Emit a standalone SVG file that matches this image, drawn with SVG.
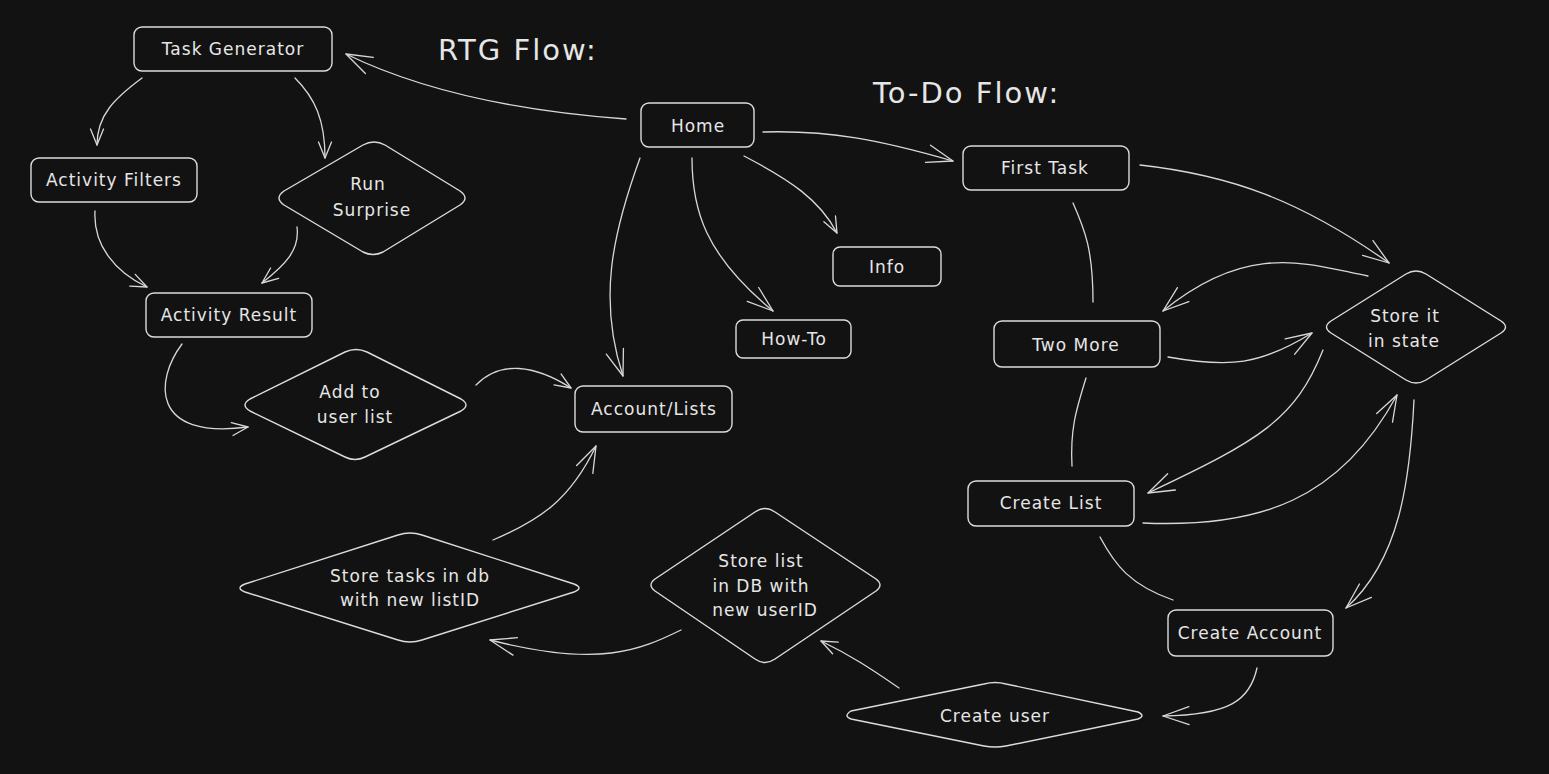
<svg xmlns="http://www.w3.org/2000/svg" width="1549" height="774" viewBox="0 0 1549 774">
<style>
.bg{fill:#121212}
.n{fill:none;stroke:#dcdcdc;stroke-width:1.4;stroke-linejoin:round}
.c{fill:none;stroke:#d8d8d8;stroke-width:1.3;stroke-linecap:round}
.a{marker-end:url(#ah)}
.al{marker-end:url(#ahl)}
.t{fill:#e6e6e6;font-family:"DejaVu Sans","Liberation Sans",sans-serif;font-size:17px;letter-spacing:1px;text-anchor:middle}
.h{fill:#e6e6e6;font-family:"DejaVu Sans","Liberation Sans",sans-serif;font-size:29px;letter-spacing:2px}
</style>
<defs>
<marker id="ah" markerUnits="userSpaceOnUse" viewBox="-20 -10 24 20" refX="0" refY="0" markerWidth="24" markerHeight="20" orient="auto" overflow="visible">
<path d="M -16 -6.5 L 0 0 L -16 6.5" fill="none" stroke="#d8d8d8" stroke-width="1.3" stroke-linecap="round" stroke-linejoin="round"/>
</marker>
<marker id="ahl" markerUnits="userSpaceOnUse" viewBox="-30 -12 34 24" refX="0" refY="0" markerWidth="34" markerHeight="24" orient="auto" overflow="visible">
<path d="M -26 -9 L 0 0 L -26 9" fill="none" stroke="#d8d8d8" stroke-width="1.3" stroke-linecap="round" stroke-linejoin="round"/>
</marker>
</defs>
<rect class="bg" x="0" y="0" width="1549" height="774"/>

<g id="titles">
<text class="h" x="438" y="60">RTG Flow:</text>
<text class="h" x="873" y="103">To-Do Flow:</text>
</g>

<g id="connectors">
<path class="c al" d="M 626 119 C 530 112, 430 95, 346 54"/>
<path class="c a" d="M 142 78 C 115 98, 97 115, 97 145"/>
<path class="c a" d="M 295 78 C 315 98, 325 120, 325 158"/>
<path class="c a" d="M 95 211 C 93 245, 115 272, 147 287"/>
<path class="c a" d="M 297 227 C 300 250, 285 265, 262 283"/>
<path class="c a" d="M 182 344 C 155 380, 150 440, 248 427"/>
<path class="c a" d="M 476 385 C 500 360, 535 365, 571 388"/>
<path class="c al" d="M 640 158 C 612 235, 598 300, 623 376"/>
<path class="c al" d="M 692 158 C 692 210, 705 255, 773 311"/>
<path class="c a" d="M 744 156 C 790 180, 820 200, 837 233"/>
<path class="c al" d="M 763 132 C 830 130, 880 140, 953 161"/>
<path class="c al" d="M 1140 165 C 1230 175, 1300 200, 1389 263"/>
<path class="c al" d="M 1368 276 C 1310 265, 1250 240, 1163 311"/>
<path class="c al" d="M 1168 357 C 1230 368, 1260 365, 1312 333"/>
<path class="c" d="M 1073 203 C 1085 230, 1093 250, 1093 302"/>
<path class="c" d="M 1086 378 C 1076 410, 1070 430, 1072 466"/>
<path class="c al" d="M 1323 350 C 1295 420, 1260 440, 1148 493"/>
<path class="c al" d="M 1143 523 C 1260 528, 1340 500, 1397 395"/>
<path class="c al" d="M 1414 400 C 1410 480, 1400 560, 1346 608"/>
<path class="c" d="M 1100 537 C 1115 565, 1130 585, 1173 600"/>
<path class="c al" d="M 1257 668 C 1250 700, 1230 715, 1163 716"/>
<path class="c a" d="M 899 688 C 870 668, 850 655, 821 641"/>
<path class="c al" d="M 681 630 C 640 650, 600 668, 490 640"/>
<path class="c al" d="M 493 540 C 540 520, 570 500, 596 446"/>
</g>

<g id="task-generator">
<rect class="n" x="134" y="27" width="198" height="44" rx="8"/>
<text class="t" x="233" y="55">Task Generator</text>
</g>
<g id="activity-filters">
<rect class="n" x="31" y="158" width="166" height="44" rx="8"/>
<text class="t" x="114" y="186">Activity Filters</text>
</g>
<g id="run-surprise">
<path class="n" d="M 284 191 Q 274 198 284 205 L 363 252 Q 373 257 383 252 L 460 205 Q 470 198 460 191 L 385 145 Q 374 139 363 145 Z"/>
<text class="t" x="368" y="190">Run</text>
<text class="t" x="372" y="216">Surprise</text>
</g>
<g id="activity-result">
<rect class="n" x="146" y="293" width="166" height="44" rx="8"/>
<text class="t" x="229" y="321">Activity Result</text>
</g>
<g id="add-to-user-list">
<path class="n" d="M 250 399 Q 240 405 250 411 L 345 457 Q 355 462 365 457 L 461 411 Q 471 405 461 399 L 367 352 Q 356 347 345 352 Z"/>
<text class="t" x="350" y="398">Add to</text>
<text class="t" x="355" y="423">user list</text>
</g>
<g id="home">
<rect class="n" x="641" y="103" width="113" height="44" rx="8"/>
<text class="t" x="698" y="132">Home</text>
</g>
<g id="info">
<rect class="n" x="833" y="247" width="108" height="39" rx="7"/>
<text class="t" x="887" y="273">Info</text>
</g>
<g id="how-to">
<rect class="n" x="736" y="320" width="115" height="38" rx="7"/>
<text class="t" x="794" y="345">How-To</text>
</g>
<g id="account-lists">
<rect class="n" x="575" y="386" width="157" height="46" rx="8"/>
<text class="t" x="654" y="415">Account/Lists</text>
</g>
<g id="first-task">
<rect class="n" x="963" y="146" width="166" height="44" rx="8"/>
<text class="t" x="1045" y="174">First Task</text>
</g>
<g id="two-more">
<rect class="n" x="994" y="321" width="166" height="46" rx="8"/>
<text class="t" x="1076" y="351">Two More</text>
</g>
<g id="create-list">
<rect class="n" x="968" y="481" width="166" height="45" rx="8"/>
<text class="t" x="1051" y="509">Create List</text>
</g>
<g id="store-in-state">
<path class="n" d="M 1331 321 Q 1322 327 1331 333 L 1406 380 Q 1416 386 1426 380 L 1501 333 Q 1510 327 1501 321 L 1426 274 Q 1416 268 1406 274 Z"/>
<text class="t" x="1405" y="322">Store it</text>
<text class="t" x="1404" y="347">in state</text>
</g>
<g id="create-account">
<rect class="n" x="1168" y="610" width="165" height="46" rx="8"/>
<text class="t" x="1250" y="639">Create Account</text>
</g>
<g id="create-user">
<path class="n" d="M 851 711 Q 843 716 851 719 L 984 746 Q 995 748 1006 746 L 1138 719 Q 1146 716 1138 712 L 1006 684 Q 995 681 984 684 Z"/>
<text class="t" x="995" y="722">Create user</text>
</g>
<g id="store-list-db">
<path class="n" d="M 655 579 Q 647 585 655 591 L 755 659 Q 765 666 775 659 L 876 591 Q 884 585 876 579 L 775 512 Q 765 505 755 512 Z"/>
<text class="t" x="761" y="567">Store list</text>
<text class="t" x="761" y="592">in DB with</text>
<text class="t" x="765" y="616">new userID</text>
</g>
<g id="store-tasks-db">
<path class="n" d="M 245 584 Q 235 588 245 592 L 398 640 Q 410 644 422 640 L 574 592 Q 584 588 574 584 L 422 535 Q 410 531 398 535 Z"/>
<text class="t" x="410" y="582">Store tasks in db</text>
<text class="t" x="410" y="606">with new listID</text>
</g>
</svg>
